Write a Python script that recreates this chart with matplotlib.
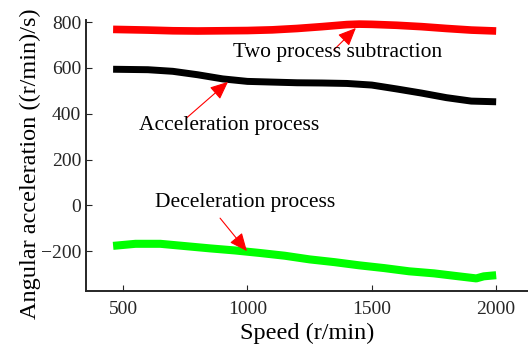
import numpy as np
import matplotlib
matplotlib.use('Agg')
import matplotlib.pyplot as plt

plt.rcParams['font.family'] = ['Liberation Serif', 'DejaVu Serif']

# speed (r/min) and angular acceleration ((r/min)/s) for each process
speed_sub = [460, 600, 700, 800, 900, 1000, 1100, 1200, 1300, 1400, 1450, 1500, 1600, 1700, 1800, 1900, 2000]
acc_sub = [768, 765, 762, 761, 762, 763, 766, 772, 780, 789, 791, 790, 786, 780, 772, 765, 761]

speed_acc = [460, 600, 700, 800, 900, 1000, 1100, 1200, 1300, 1400, 1500, 1600, 1700, 1800, 1900, 2000]
acc_acc = [594, 592, 585, 570, 552, 541, 538, 535, 534, 532, 525, 508, 490, 470, 455, 452]

speed_dec = [460, 550, 650, 750, 850, 950, 1050, 1150, 1250, 1350, 1450, 1550, 1650, 1750, 1850, 1920, 1950, 2000]
acc_dec = [-177, -168, -168, -178, -188, -197, -208, -220, -236, -248, -262, -274, -288, -297, -310, -319, -310, -305]

fig = plt.figure(figsize=(5.28, 3.49), dpi=100)
ax = fig.add_axes([86/528, 58/349, 442/528, 271/349])

ax.plot(speed_sub, acc_sub, color='#ff0000', lw=5.5, solid_capstyle='butt')
ax.plot(speed_acc, acc_acc, color='black', lw=5.0, solid_capstyle='butt')
ax.plot(speed_dec, acc_dec, color='#00ff00', lw=5.8, solid_capstyle='butt')

# labels with red pointer arrows
arrow = dict(arrowstyle='-|>,head_length=0.5,head_width=0.22', color='red', lw=0.8,
             mutation_scale=22, shrinkA=0, shrinkB=0)
ax.annotate('', xy=(1436, 774), xytext=(1347, 678), arrowprops=arrow)
ax.annotate('', xy=(922, 539), xytext=(757, 383), arrowprops=arrow)
ax.annotate('', xy=(998, -200), xytext=(890, -56), arrowprops=arrow)
ax.text(942, 665, 'Two process subtraction', fontsize=15.5, ha='left', va='center')
ax.text(564, 350, 'Acceleration process', fontsize=15.5, ha='left', va='center')
ax.text(629, 14, 'Deceleration process', fontsize=15.5, ha='left', va='center')

ax.set_xlim(351, 2128)
ax.set_ylim(-374, 809)
ax.set_xticks([500, 1000, 1500, 2000])
ax.set_yticks([-200, 0, 200, 400, 600, 800])
ax.set_xlabel('Speed (r/min)', fontsize=17.5, labelpad=4)
ax.set_ylabel('Angular acceleration ((r/min)/s)', fontsize=17.5, labelpad=0)
ax.yaxis.label.set_y(0.47)
ax.tick_params(direction='in', length=4, labelsize=14, colors='#262626')
ax.tick_params(axis='x', pad=7)
for s in ['top', 'right']:
    ax.spines[s].set_visible(False)
for s in ['left', 'bottom']:
    ax.spines[s].set_linewidth(1.4)
    ax.spines[s].set_color('#262626')

fig.savefig('out.png', dpi=100)
